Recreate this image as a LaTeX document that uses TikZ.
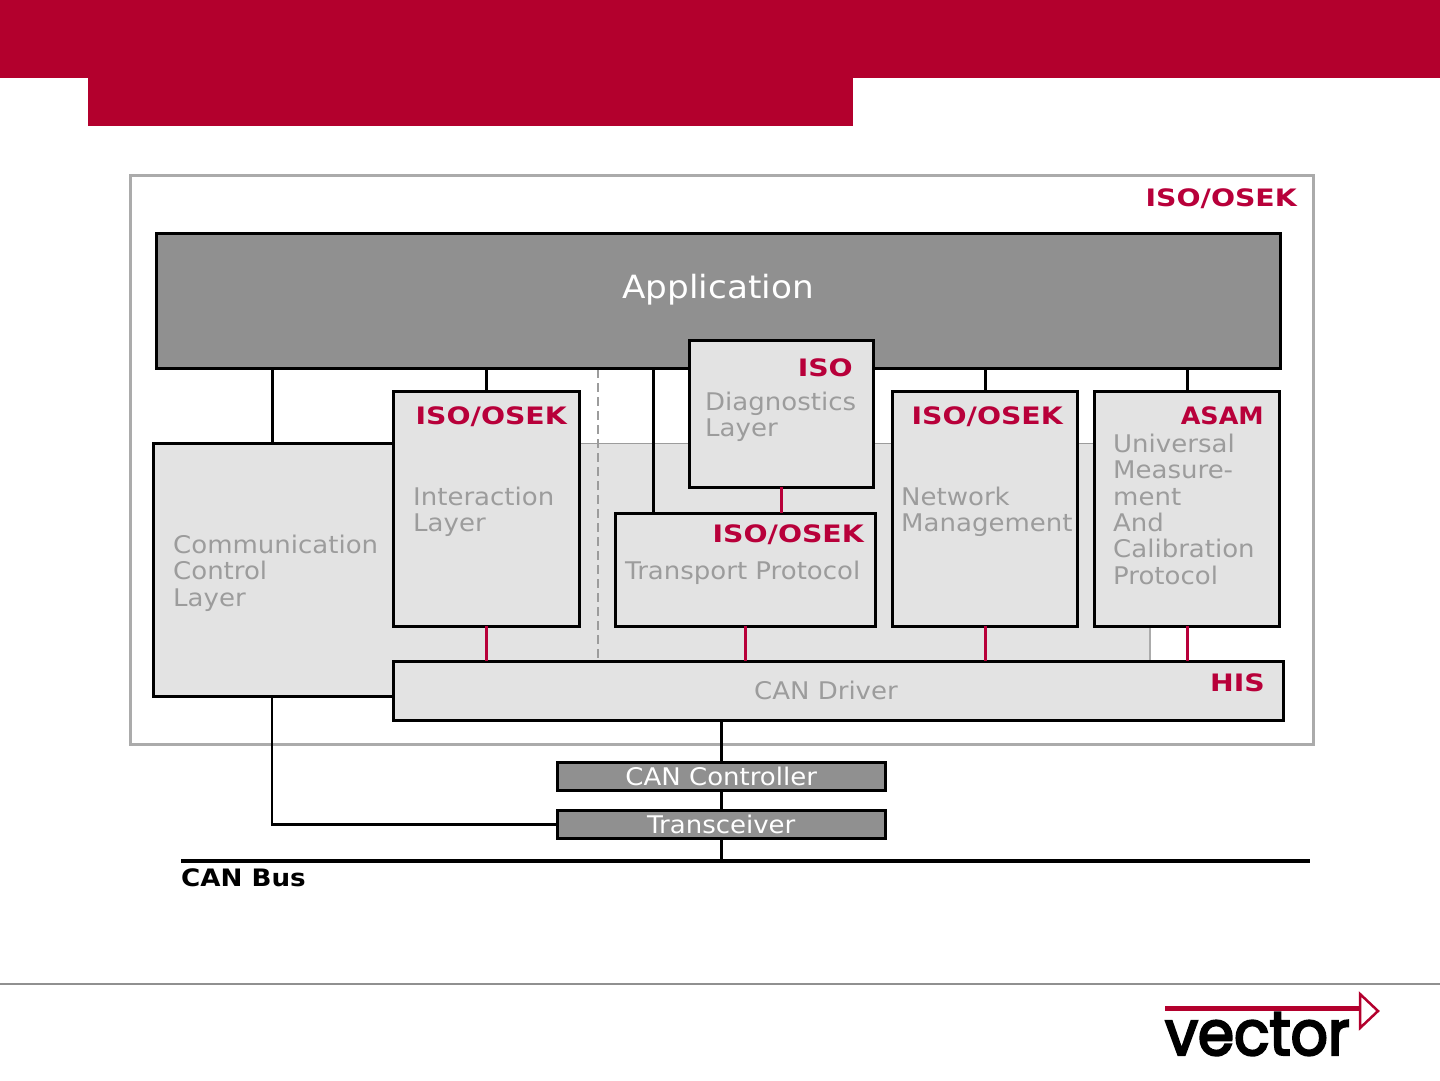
\documentclass[tikz,border=0pt]{standalone}
\usepackage{fontspec}
\setmainfont{DejaVu Sans}
\newfontfamily\logofont{Poppins}[FakeBold=3.6,FakeStretch=0.94]
\newfontfamily\bodyface{DejaVu Sans}[FakeStretch=1.07]
\newfontfamily\tagface{DejaVu Sans}[FakeStretch=1.18]
\newfontfamily\asamface{DejaVu Sans}[FakeStretch=1.06]
\newfontfamily\busface{DejaVu Sans}[FakeStretch=1.09]
\definecolor{vecred}{HTML}{B3002D}
\definecolor{labred}{HTML}{B8003A}
\definecolor{darkbox}{HTML}{909090}
\definecolor{lightbox}{HTML}{E3E3E3}
\definecolor{greytext}{HTML}{9C9C9C}
\definecolor{framegrey}{HTML}{ABABAB}
\newcommand{\bodysize}{\bodyface\fontsize{24.3}{26.3}\selectfont}
\newcommand{\tagsize}{\tagface\fontsize{24}{26}\selectfont\bfseries}
\tikzset{
    layerbox/.style={draw=black, line width=3pt, fill=lightbox, inner sep=0pt, outer sep=0pt, anchor=north west},
    darklayer/.style={layerbox, fill=darkbox},
    blocktext/.style={anchor=north west, align=left, inner sep=0pt, text=greytext, font=\bodysize},
    tag/.style={anchor=north east, inner sep=0pt, text=labred, font=\tagsize},
    whitetext/.style={anchor=center, inner sep=0pt, text=white, font=\bodysize},
    link/.style={draw=black, line width=3pt},
    thinlink/.style={draw=black, line width=2.5pt},
    redlink/.style={draw=labred, line width=3pt}
}
\begin{document}
\begin{tikzpicture}[x=1pt, y=-1pt]
    \useasboundingbox (0,0) rectangle (1440,1080);

    % Header bars
    \fill[vecred] (0,0) rectangle (1440,78);
    \fill[vecred] (88,78) rectangle (853,126);

    % Outer frame
    \draw[framegrey, line width=3pt] (130,175) rectangle (1313,744);
    \node[tag] (tagframe) at (1297,188) {ISO/OSEK};

    % Communication control layer
    \fill[lightbox] (153,443) -- (1150,443) -- (1150,660) -- (392,660) -- (392,696) -- (153,696) -- cycle;
    \draw[greytext, line width=1pt] (392,443) -- (1094,443);
    \draw[framegrey, line width=2pt] (1150,627) -- (1150,660);
    \draw[black, line width=3pt] (392,443) -- (153,443) -- (153,696) -- (392,696);
    \coordinate (commtop) at (272,443);
    \coordinate (commbottom) at (272,696);
    \coordinate (transporttop) at (653,513);
    \node[blocktext] (commtext) at (173,535) {Communication\\Control\\Layer};

    % Dashed separation
    \coordinate (dashtop) at (598,369);
    \coordinate (dashbottom) at (598,660);
    \draw[greytext, line width=2pt, dashed, dash pattern=on 9pt off 5pt] (dashtop) -- (dashbottom);

    % Boxes
    \node[darklayer, minimum width=1124pt, minimum height=135pt] (application) at (156,233) {};
    \node[layerbox, minimum width=186pt, minimum height=235pt] (interaction) at (393,391) {};
    \node[layerbox, minimum width=260pt, minimum height=113pt] (transport) at (615,513) {};
    \node[layerbox, minimum width=184pt, minimum height=147pt] (diagnostics) at (689,340) {};
    \node[layerbox, minimum width=185pt, minimum height=235pt] (network) at (892.5,391) {};
    \node[layerbox, minimum width=185pt, minimum height=235pt] (asam) at (1094.5,391) {};
    \node[layerbox, minimum width=890pt, minimum height=59.5pt] (driver) at (393,661) {};
    \node[darklayer, minimum width=328.5pt, minimum height=28.5pt] (controller) at (557,762) {};
    \node[darklayer, minimum width=328.5pt, minimum height=28.5pt] (transceiver) at (557,810) {};

    % Bus line
    \coordinate (busleft) at (181,860.5);
    \coordinate (busright) at (1310,860.5);
    \draw[black, line width=4pt] (busleft) -- (busright);
    \coordinate (bustap) at (transceiver.south |- busleft);
    \node[anchor=north west, inner sep=0pt, font=\busface\fontsize{24}{26}\selectfont\bfseries] (buslabel) at (181,868) {CAN Bus};

    % Black connectors
    \draw[link] (commtop) -- (commtop |- application.south);
    \draw[link] (transporttop) -- (transporttop |- application.south);
    \draw[link] (interaction.north) -- (interaction.north |- application.south);
    \draw[link] (network.north) -- (network.north |- application.south);
    \draw[link] (asam.north) -- (asam.north |- application.south);
    \draw[thinlink] (commbottom) |- (transceiver.west);
    \draw[thinlink] (controller.north) -- (controller.north |- driver.south);
    \draw[thinlink] (controller.south) -- (transceiver.north);
    \draw[thinlink] (transceiver.south) -- (bustap);

    % Red connectors
    \draw[redlink] (diagnostics.south) -- (transport.north -| diagnostics.south);
    \draw[redlink] (interaction.south) -- (interaction.south |- driver.north);
    \draw[redlink] (transport.south) -- (transport.south |- driver.north);
    \draw[redlink] (network.south) -- (network.south |- driver.north);
    \draw[redlink] (asam.south) -- (asam.south |- driver.north);

    % Labels
    \node[whitetext, font=\bodyface\fontsize{32}{34}\selectfont] (apptext) at (718,290) {Application};
    \node[tag] (tagdiag) at (853,358) {ISO};
    \node[blocktext] (diagtext) at (705,392) {Diagnostics\\Layer};
    \node[tag] (taginter) at (567,406) {ISO/OSEK};
    \node[blocktext] (intertext) at (413,487) {Interaction\\Layer};
    \node[tag] (tagtrans) at (864,524) {ISO/OSEK};
    \node[blocktext] (transtext) at (625,561) {Transport Protocol};
    \node[tag] (tagnet) at (1063,406) {ISO/OSEK};
    \node[blocktext] (nettext) at (901,487) {Network\\Management};
    \node[tag, font=\asamface\fontsize{24}{26}\selectfont\bfseries] (tagasam) at (1264,406) {ASAM};
    \node[blocktext] (asamtext) at (1113,434) {Universal\\Measure-\\ment\\And\\Calibration\\Protocol};
    \node[tag] (taghis) at (1265,673) {HIS};
    \node[blocktext, anchor=center] (drivertext) at (826,690) {CAN Driver};
    \node[whitetext] (ctrltext) at (controller.center) {CAN Controller};
    \node[whitetext] (transctext) at (transceiver.center) {Transceiver};

    % Footer and logo
    \draw[darkbox, line width=2pt] (0,984) -- (1440,984);
    \draw[vecred, line width=2.5pt, fill=white, line join=miter] (1360,994) -- (1378,1011) -- (1360,1028) -- cycle;
    \fill[vecred] (1165,1005.5) rectangle (1360,1011);
    \node[anchor=base west, inner sep=0pt, font=\logofont\fontsize{62}{62}\selectfont, text=black] (logotext) at (1165,1055) {vector};
\end{tikzpicture}
\end{document}
